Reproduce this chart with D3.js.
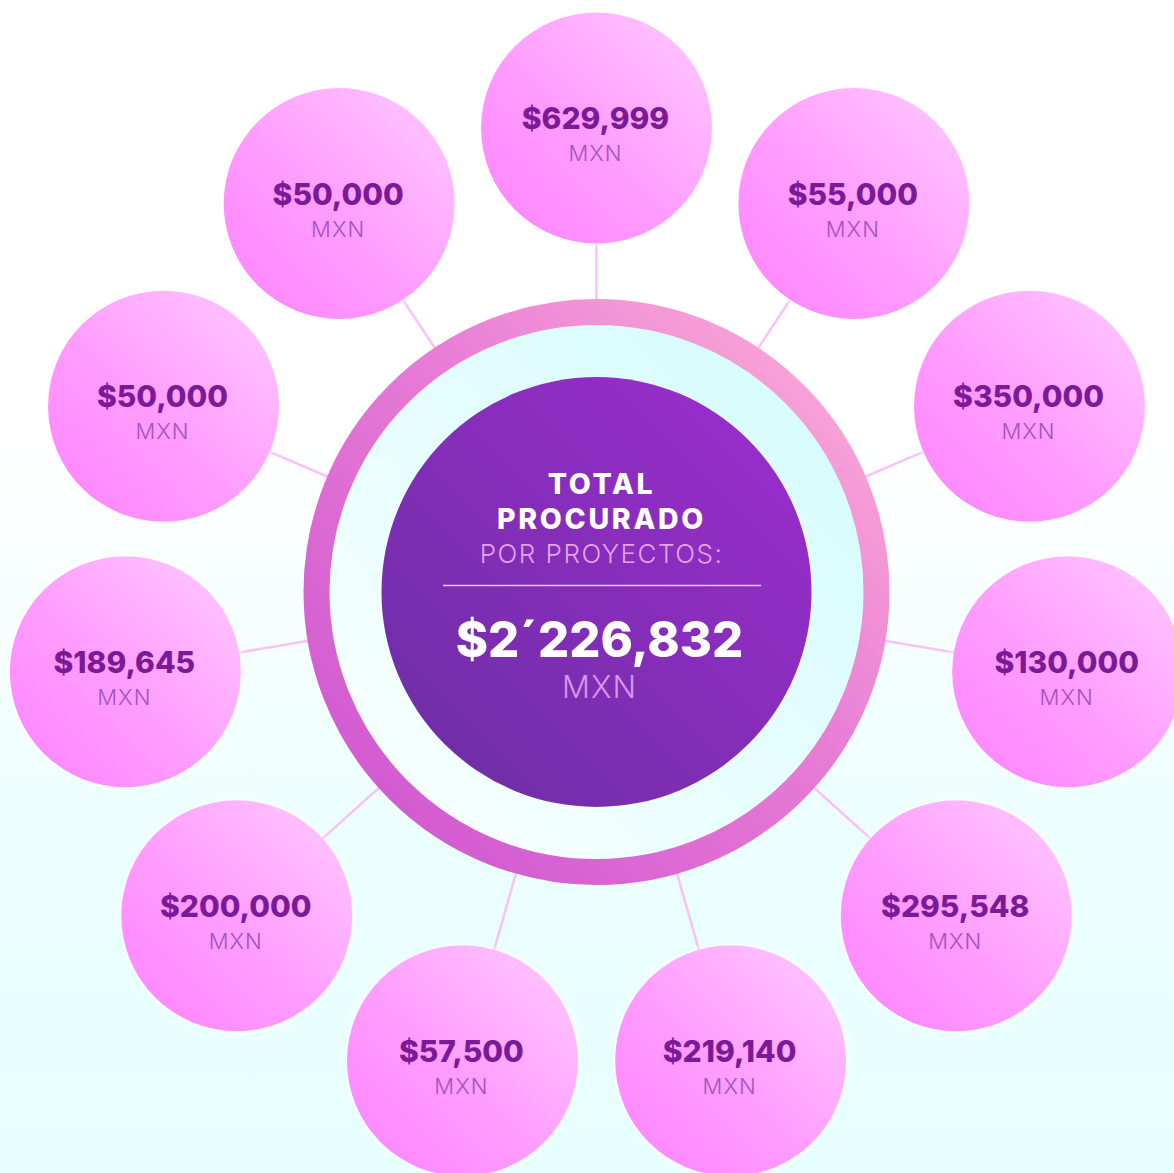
<!DOCTYPE html>
<html>
<head>
<meta charset="utf-8">
<script src="https://cdn.jsdelivr.net/npm/d3@7"></script>
<style>
  html, body { margin: 0; padding: 0; background: #fff; }
  svg { display: block; }
</style>
</head>
<body>
<svg width="1174" height="1173"></svg>
<script>
// montos procurados por proyecto (MXN), en el orden de las manecillas desde arriba
var values = [629999, 55000, 350000, 130000, 295548, 219140, 57500, 200000, 189645, 50000, 50000];
var currency = "MXN";
var titleLines = ["TOTAL", "PROCURADO"];
var subtitle = "POR PROYECTOS:";

var W = 1174, H = 1173;
var svg = d3.select("svg");
var defs = svg.append("defs");

function grad(id, x1, y1, x2, y2, stops) {
  var g = defs.append("linearGradient").attr("id", id)
    .attr("x1", x1).attr("y1", y1).attr("x2", x2).attr("y2", y2);
  stops.forEach(function(s){
    g.append("stop").attr("offset", s[0]).attr("stop-color", s[1]);
  });
}

grad("bg", 0, 0, 0, 1, [[0, "#ffffff"], [0.38, "#ffffff"], [0.72, "#ebfefe"], [1, "#e6fffe"]]);
grad("sat", 1, 0, 0, 1, [[0, "#ffcbff"], [0.55, "#ff9cff"], [1, "#ff82ff"]]);
grad("ring", 1, 0, 0, 1, [[0, "#ffb0d6"], [0.45, "#e77bd6"], [1, "#cc52cf"]]);
grad("inner", 1, 0, 0, 1, [[0, "#d2fbfd"], [0.6, "#eafefe"], [1, "#ffffff"]]);
grad("core", 1, 0, 0, 1, [[0, "#9e2dd0"], [1, "#6a2ea2"]]);

var halo = defs.append("filter").attr("id", "halo")
  .attr("x", "-20%").attr("y", "-20%").attr("width", "140%").attr("height", "140%");
halo.append("feDropShadow").attr("dx", 0).attr("dy", 0).attr("stdDeviation", 4)
  .attr("flood-color", "#ffffff").attr("flood-opacity", 0.9);

svg.append("rect").attr("width", W).attr("height", H).attr("fill", "url(#bg)");

var cx = 596.5, cy = 592;        // centro del anillo
var orbitCy = 604, orbitR = 476; // orbita de los circulos
var satR = 115.5;

var angle = d3.scaleLinear().domain([0, values.length]).range([-Math.PI / 2, 1.5 * Math.PI]);
var fmt = d3.format("$,");

function px(d, i) { return cx + orbitR * Math.cos(angle(i)); }
function py(d, i) { return orbitCy + orbitR * Math.sin(angle(i)); }

// conectores
svg.append("g").selectAll("line").data(values).enter().append("line")
  .attr("x1", cx).attr("y1", cy)
  .attr("x2", px).attr("y2", py)
  .attr("stroke", "#f8c2f8").attr("stroke-width", 2.5);

// anillo central
svg.append("circle").attr("cx", cx).attr("cy", cy).attr("r", 280)
  .attr("fill", "url(#inner)").attr("stroke", "url(#ring)").attr("stroke-width", 26);
svg.append("circle").attr("cx", cx).attr("cy", cy).attr("r", 215)
  .attr("fill", "url(#core)");

// satelites
var sats = svg.append("g").selectAll("g").data(values).enter().append("g")
  .attr("transform", function(d, i){ return "translate(" + [px(d, i), py(d, i)] + ")"; });

sats.append("circle").attr("r", satR).attr("fill", "url(#sat)").attr("filter", "url(#halo)");

sats.append("text")
  .attr("x", -1).attr("y", 1)
  .attr("text-anchor", "middle")
  .style("font-family", "Inter, sans-serif")
  .style("font-weight", 800)
  .style("font-size", "30px")
  .attr("fill", "#7b1a98")
  .text(function(d){ return fmt(d); });

sats.append("text")
  .attr("x", -1).attr("y", 33)
  .attr("text-anchor", "middle")
  .style("font-family", "Inter, sans-serif")
  .style("font-weight", 300)
  .style("font-size", "22px")
  .style("letter-spacing", "1px")
  .attr("fill", "#a153bf")
  .text(currency);

// texto central
var total = d3.sum(values);
var totalLabel = "$" + d3.format(",")(total).replace(",", "\u00b4");

var center = svg.append("g").attr("text-anchor", "middle")
  .style("font-family", "Inter, sans-serif");

center.selectAll("text.title").data(titleLines).enter().append("text")
  .attr("class", "title")
  .attr("x", cx + 5).attr("y", function(d, i){ return 494 + i * 35; })
  .style("font-weight", 800).style("font-size", "28.5px")
  .style("letter-spacing", "2.7px")
  .attr("fill", "#ffffff").text(function(d){ return d; });

center.append("text").attr("x", cx + 5).attr("y", 563)
  .style("font-weight", 300).style("font-size", "26px")
  .style("letter-spacing", "1.5px")
  .attr("fill", "#e6a2ef").text(subtitle);

center.append("line").attr("x1", 443).attr("x2", 761).attr("y1", 585.5).attr("y2", 585.5)
  .attr("stroke", "#f0c4f4").attr("stroke-width", 1.5);

center.append("text").attr("x", cx + 3).attr("y", 657)
  .style("font-weight", 800).style("font-size", "49px")
  .attr("fill", "#ffffff").text(totalLabel);

center.append("text").attr("x", cx + 3).attr("y", 698)
  .style("font-weight", 300).style("font-size", "31px")
  .style("letter-spacing", "1px")
  .attr("fill", "#dc95ec").text(currency);
</script>
</body>
</html>
